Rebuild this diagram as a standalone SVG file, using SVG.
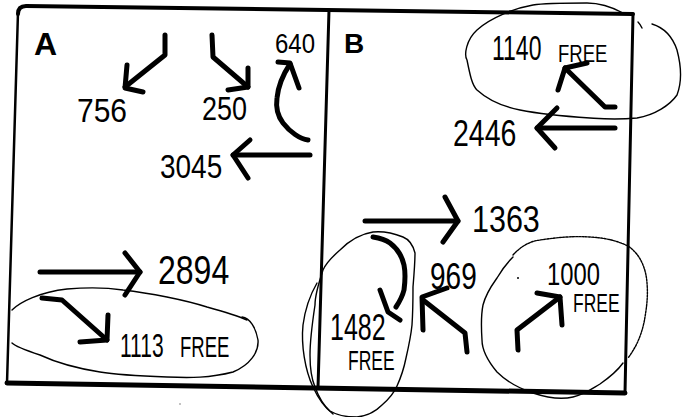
<svg xmlns="http://www.w3.org/2000/svg" width="693" height="417" viewBox="0 0 693 417">
<style>
  .frame{fill:none;stroke:#000;stroke-linejoin:round;stroke-linecap:round}
  .arr{fill:none;stroke:#000;stroke-width:5;stroke-linecap:round;stroke-linejoin:round}
  .loop{fill:none;stroke:#000;stroke-width:1.4;stroke-linecap:round;stroke-linejoin:round}
  .num{font-family:"Liberation Sans",Arial,sans-serif;fill:#000}
  .lbl{font-family:"Liberation Sans",Arial,sans-serif;font-weight:bold;fill:#000}
</style>
<rect x="0" y="0" width="693" height="417" fill="#fff"/>
<g id="frame">
  <path class="frame" stroke-width="4" d="M18,14 Q18,6 26,6 L633,14"/>
  <path class="frame" stroke-width="2.5" d="M18,12 L7,383"/>
  <path class="frame" stroke-width="5" d="M7,383 L625,393"/>
  <path class="frame" stroke-width="3" d="M633,14 L625,393"/>
  <path class="frame" stroke-width="3" d="M329,10 L318,388"/>
</g>
<g id="panel-A">
  <text class="lbl" x="34" y="55" font-size="32">A</text>
</g>
<g id="panel-B">
  <text class="lbl" x="344" y="53" font-size="28">B</text>
</g>
<g id="free-loops">
  <path class="loop" d="M12,310 C20,302 40,292 67,289 C90,287 110,288 123,290 C150,293 185,300 207,307 C225,312 238,316 247,320"/>
  <path class="loop" d="M242,317 C250,318 256,328 258,340 C259,352 250,365 233,372 C210,378 190,378 167,377 C140,376 118,375 100,372 C75,368 55,362 40,355 C25,350 15,346 12,343"/>
  <path class="loop" d="M623,13 C610,6 600,3 587,3 C560,3 545,3 533,5 C515,8 490,18 477,30 C466,40 464,55 467,60 C470,75 472,85 477,90 C488,100 500,106 520,110 C540,114 560,116 590,118 C605,119 615,120 637,118 C655,115 670,105 677,95 C682,82 681,65 677,50 C673,38 665,28 652,24"/>
  <path class="loop" d="M638,22 C640,24 641,26 642,28"/>
  <path class="loop" stroke-dasharray="2 1.2" d="M513,255 C520,247 530,241 540,240 C560,237 575,236 590,237 C605,238 615,240 628,246 C640,254 646,268 647,283 C648,295 647,305 645,317 C643,330 638,345 628,358"/>
  <path class="loop" d="M623,363 C618,370 610,377 600,384 C590,390 585,394 573,397 C560,400 545,397 533,393 C515,387 505,380 497,372 C487,360 482,350 482,340 C481,325 481,315 483,305 C486,293 492,285 497,278 C503,268 508,262 513,257"/>
  <path class="loop" d="M415,253 C413,245 408,239 403,237 C393,233 383,231 373,232 C360,234 348,242 340,250 C332,257 326,263 323,270 C318,285 315,295 315,305 C312,325 310,340 310,355 C310,370 312,380 315,387 C319,398 323,405 330,411 C338,416 348,417 357,417 C367,416 375,412 382,405 C390,398 394,393 397,386 C402,375 404,368 406,358 C409,345 411,335 412,325 C413,310 413,300 413,287 C414,275 415,262 415,253"/>
  <path class="loop" d="M317,283 C310,295 305,310 303,325 C301,345 305,370 313,387 C318,398 325,408 333,414"/>
  <circle cx="518" cy="278" r="1" fill="#000"/>
  <circle cx="180" cy="404" r="0.8" fill="#777"/>
</g>
<g id="connectors">
  <path class="arr" d="M165,35 L165,55 L125,87"/>
  <path class="arr" d="M127,65 L125,88 L143,92"/>
  <path class="arr" d="M212,35 L213,57 L248,87"/>
  <path class="arr" d="M248,68 L248,87 L228,90"/>
  <path class="arr" stroke-width="4" d="M308,140 C300,139 290,132 283,123 C277,115 276,105 277,98 C278,88 282,76 290,64"/>
  <path class="arr" stroke-width="4" d="M278,62 L290,63 L299,88"/>
  <path class="arr" d="M310,155 L233,155"/>
  <path class="arr" d="M250,140 L233,155 L248,178"/>
  <path class="arr" d="M40,272 L140,272"/>
  <path class="arr" d="M125,253 L140,272 L125,295"/>
  <path class="arr" d="M42,298 L62,300 L107,340"/>
  <path class="arr" d="M108,315 L107,340 L80,342"/>
  <path class="arr" d="M615,107 L605,107 L565,68"/>
  <path class="arr" d="M587,63 L565,68 L558,90"/>
  <path class="arr" d="M615,128 L537,128"/>
  <path class="arr" d="M557,108 L537,128 L555,148"/>
  <path class="arr" d="M365,221 L458,221"/>
  <path class="arr" d="M445,197 L458,221 L443,242"/>
  <path class="arr" stroke-width="4.5" d="M373,237 C380,238 386,240 390,243 C398,249 402,256 404,265 C406,275 405,282 404,290 C402,298 398,304 396,307"/>
  <path class="arr" stroke-width="4.5" d="M380,290 L388,312 L400,320"/>
  <path class="arr" d="M467,352 L465,333 L423,300"/>
  <path class="arr" d="M423,330 L422,297 L447,288"/>
  <path class="arr" d="M518,350 L517,330 L560,297"/>
  <path class="arr" d="M537,293 L560,297 L562,325"/>
</g>
<g id="node-756"><text class="num" transform="translate(77,122) scale(1,1.1)" font-size="30">756</text></g>
<g id="node-250"><text class="num" transform="translate(202,120) scale(1,1.2)" font-size="27">250</text></g>
<g id="node-640"><text class="num" transform="translate(275,53) scale(1,1.15)" font-size="24">640</text></g>
<g id="node-3045"><text class="num" transform="translate(160,178) scale(1,1.2)" font-size="28">3045</text></g>
<g id="node-2894"><text class="num" transform="translate(158,284) scale(1,1.25)" font-size="32">2894</text></g>
<g id="node-1113"><text class="num" transform="translate(120,357) scale(1,1.6)" font-size="21">1113</text><text class="num" transform="translate(180,357) scale(1,1.6)" font-size="18.5">FREE</text></g>
<g id="node-1140"><text class="num" transform="translate(492,60) scale(1,1.5)" font-size="23">1140</text><text class="num" transform="translate(558,62) scale(1,1.25)" font-size="18.5">FREE</text></g>
<g id="node-2446"><text class="num" transform="translate(453,146) scale(1,1.3)" font-size="28.5">2446</text></g>
<g id="node-1363"><text class="num" transform="translate(472,232) scale(1,1.23)" font-size="30.5">1363</text></g>
<g id="node-969"><text class="num" transform="translate(430,289) scale(1,1.3)" font-size="28">969</text></g>
<g id="node-1482"><text class="num" transform="translate(330,340) scale(1,1.5)" font-size="25">1482</text><text class="num" transform="translate(348,370) scale(1,1.6)" font-size="17.5">FREE</text></g>
<g id="node-1000"><text class="num" transform="translate(547,285) scale(1,1.3)" font-size="23.8">1000</text><text class="num" transform="translate(573,312) scale(1,1.5)" font-size="17.5">FREE</text></g>
</svg>
